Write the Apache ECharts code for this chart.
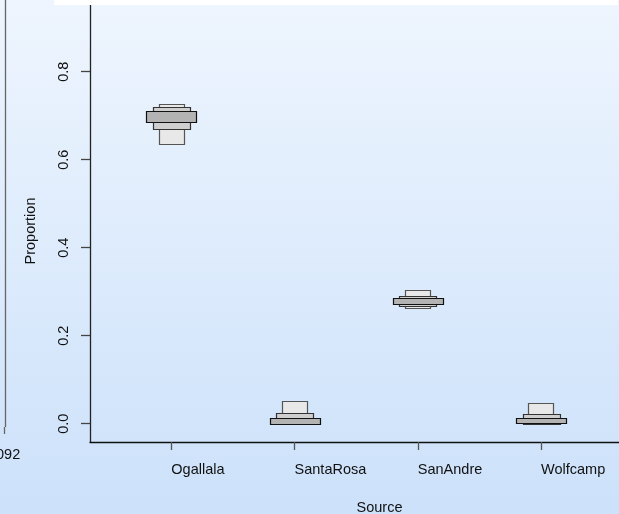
<!DOCTYPE html>
<html>
<head>
<meta charset="utf-8">
<script src="https://cdn.jsdelivr.net/npm/echarts@6/dist/echarts.min.js"></script>
<style>
html,body{margin:0;padding:0;}
#chart{width:619px;height:514px;}
</style>
</head>
<body>
<div id="chart"></div>
<script>
var categories = ['Ogallala', 'SantaRosa', 'SanAndre', 'Wolfcamp'];
var outerLow  = [0.634, 0.000, 0.261, 0.000];
var outerHigh = [0.726, 0.052, 0.303, 0.046];
var midLow    = [0.670, 0.000, 0.267, 0.000];
var midHigh   = [0.719, 0.024, 0.290, 0.022];
var innerLow  = [0.685, 0.000, 0.273, 0.000];
var innerHigh = [0.711, 0.013, 0.286, 0.012];
var yTicks = [0.0, 0.2, 0.4, 0.6, 0.8];
var xTicks = [1, 2, 3, 4];

function build(low, high) {
  return categories.map(function (c, i) { return [i + 1, low[i], high[i]]; });
}
function boxSeries(low, high, halfW, fill, stroke) {
  return {
    type: 'custom',
    data: build(low, high),
    clip: false,
    renderItem: function (params, api) {
      var x = api.value(0);
      var p1 = api.coord([x - halfW, api.value(2)]);
      var p2 = api.coord([x + halfW, api.value(1)]);
      return {
        type: 'rect',
        shape: { x: Math.round(p1[0]) + 0.5, y: Math.round(p1[1]) + 0.5,
                 width: Math.round(p2[0] - p1[0]), height: Math.round(p2[1] - p1[1]) },
        style: { fill: fill, stroke: stroke, lineWidth: 1.2 }
      };
    }
  };
}

var chart = echarts.init(document.getElementById('chart'), null, { renderer: 'canvas' });
var font = 'Liberation Sans';
var fs = 14.5;
chart.setOption({
  animation: false,
  backgroundColor: new echarts.graphic.LinearGradient(0, 0, 0, 1, [
    { offset: 0, color: '#eef5fe' }, { offset: 1, color: '#cce1fa' }
  ]),
  textStyle: { fontFamily: font },
  grid: { left: 90, right: 0, top: 0, bottom: 72, containLabel: false, outerBoundsMode: 'none' },
  xAxis: {
    type: 'value', min: 0.340, max: 4.633,
    splitLine: { show: false },
    axisLine: { show: true, onZero: false, lineStyle: { color: '#111', width: 1.3 } },
    axisTick: { show: true, customValues: xTicks, length: 8, inside: false, lineStyle: { color: '#555', width: 1.3 } },
    axisLabel: { customValues: xTicks, formatter: function (v) { return categories[Math.round(v) - 1] || ''; },
                 align: 'left', margin: 20, color: '#111', fontSize: fs, fontFamily: font },
    name: 'Source', nameLocation: 'middle', nameGap: 58,
    nameTextStyle: { color: '#111', fontSize: fs, fontFamily: font, padding: [0, 0, 0, 50] }
  },
  yAxis: {
    type: 'value', min: -0.0416, max: 0.963,
    splitLine: { show: false },
    axisLine: { show: true, onZero: false, lineStyle: { color: '#222', width: 1.3 } },
    axisTick: { show: true, customValues: yTicks, length: 9, lineStyle: { color: '#444', width: 1.3 } },
    axisLabel: { customValues: yTicks, formatter: function (v) { return v.toFixed(1); },
                 rotate: 90, margin: 19, color: '#111', fontSize: fs, fontFamily: font },
    name: 'Proportion', nameLocation: 'middle', nameGap: 52, nameRotate: 90,
    nameTextStyle: { color: '#111', fontSize: fs, fontFamily: font, padding: [0, 20, 0, 0] }
  },
  graphic: [
    { type: 'rect', shape: { x: 54, y: 0, width: 564, height: 5 }, style: { fill: '#ffffff' }, z: 10 },
    { type: 'line', shape: { x1: 5.5, y1: 0, x2: 5.5, y2: 427 }, style: { stroke: '#666', lineWidth: 1.3 }, z: 10 },
    { type: 'line', shape: { x1: 4.5, y1: 427, x2: 4.5, y2: 434 }, style: { stroke: '#666', lineWidth: 1.3 }, z: 10 },
    { type: 'text', x: -4, y: 447, style: { text: '092', fill: '#111', font: '14.5px Liberation Sans' }, z: 10 }
  ],
  series: [
    boxSeries(outerLow, outerHigh, 0.103, '#e8e8e8', '#555555'),
    boxSeries(midLow, midHigh, 0.149, '#cfcfcf', '#333333'),
    boxSeries(innerLow, innerHigh, 0.203, '#b3b3b3', '#111111')
  ]
});
</script>
</body>
</html>
